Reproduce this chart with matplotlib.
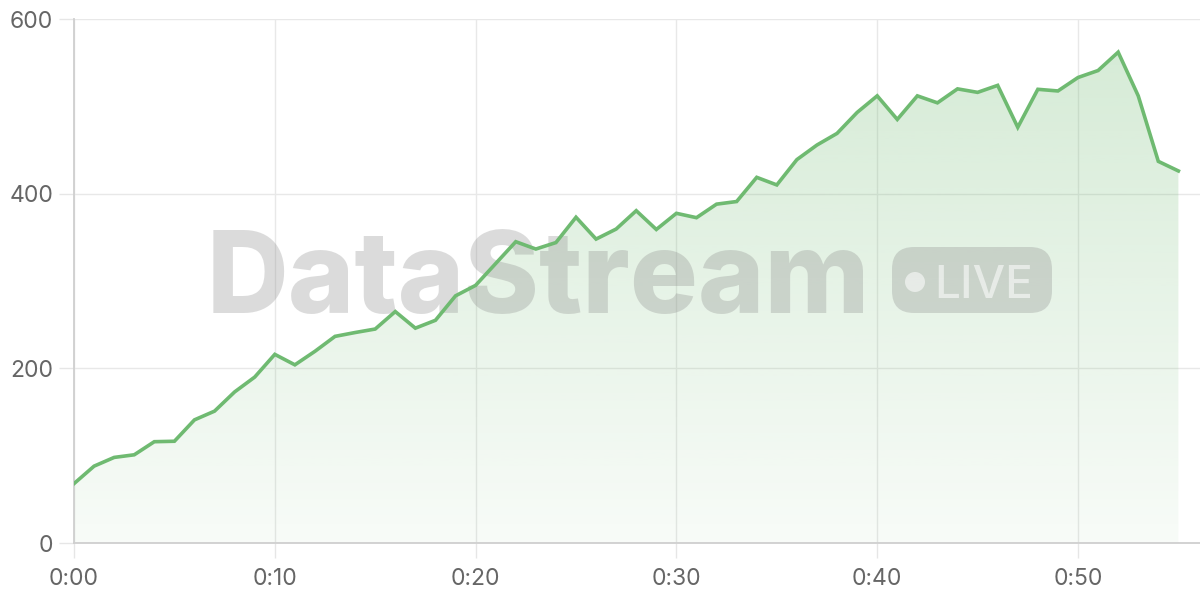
import matplotlib
matplotlib.use("Agg")
import matplotlib.pyplot as plt
import numpy as np
from matplotlib.patches import FancyBboxPatch, Circle
from matplotlib.transforms import IdentityTransform

# ---- data ----
minutes = list(range(0, 56))
values = [68, 88, 98, 101, 116, 116.5, 141, 151, 173, 190,
          216, 204, 219.5, 236.6, 241, 245, 265, 246, 255, 283,
          295, 320, 345, 336.6, 344, 373, 348, 359.5, 380.5, 359,
          377.5, 372.5, 388, 391, 418.7, 410, 439, 455.7, 469, 493,
          512, 485, 512, 504, 520, 516, 524, 476, 519.5, 517.6,
          533, 541, 562, 512, 437, 426]
xticks = [0, 10, 20, 30, 40, 50]
xtick_labels = ["0:00", "0:10", "0:20", "0:30", "0:40", "0:50"]
yticks = [0, 200, 400, 600]
watermark = "DataStream"
badge = "LIVE"

plt.rcParams['font.family'] = ['Inter', 'DejaVu Sans']

W, H = 1200, 600
fig = plt.figure(figsize=(12, 6), dpi=100)
ax = fig.add_axes([74 / W, (H - 543) / H, (W - 74) / W, (543 - 19) / H])

line_color = '#6fba71'
x = np.array(minutes, dtype=float)
y = np.array(values, dtype=float)

ax.set_xlim(0, 1126 / 20.08)
ax.set_ylim(0, 600)

# gradient fill
poly = ax.fill_between(x, y, 0, color='none', lw=0, zorder=1)
grad = np.zeros((256, 1, 4))
base = matplotlib.colors.to_rgb(line_color)
grad[:, 0, 0:3] = base
grad[:, 0, 3] = np.linspace(0.30, 0.05, 256)
im = ax.imshow(grad, aspect='auto', extent=[0, 55, 0, 600], origin='upper', zorder=1)
path = poly.get_paths()[0]
im.set_clip_path(path, transform=ax.transData)

ax.plot(x, y, color=line_color, lw=2.6, zorder=4, solid_joinstyle='miter')

# grid & spines
ax.set_xticks(xticks)
ax.set_xticklabels(xtick_labels)
ax.set_yticks(yticks)
ax.grid(True, color='#e8e8e8', lw=1, zorder=0)
ax.set_axisbelow(True)
for s in ['top', 'right']:
    ax.spines[s].set_visible(False)
for s in ['left', 'bottom']:
    ax.spines[s].set_color('#cfcfcf')
    ax.spines[s].set_linewidth(1.3)
    ax.spines[s].set_zorder(3)
ax.tick_params(axis='both', length=11, width=1, color='#e6e6e6',
               labelcolor='#666666', labelsize=16.5)
ax.tick_params(axis='x', pad=7)
ax.tick_params(axis='y', pad=4)

# watermark
ax.text(207 / W, (H - 313) / H, watermark, transform=fig.transFigure,
        fontsize=81.5, fontweight='heavy', family=['Inter', 'DejaVu Sans'],
        color='#8a8a8a', alpha=0.3, ha='left', va='baseline', zorder=2)
box = FancyBboxPatch((892, H - 313), 160, 66,
                     boxstyle='round,pad=0,rounding_size=22',
                     transform=IdentityTransform(), facecolor='#8a8a8a',
                     edgecolor='none', alpha=0.3, zorder=2)
ax.add_patch(box)
c = Circle((915, H - 282), 10, transform=IdentityTransform(),
           facecolor='white', edgecolor='none', alpha=0.55, zorder=2.5)
ax.add_patch(c)
ax.text(934, H - 298, badge, transform=IdentityTransform(),
        fontsize=33, family=['Inter', 'DejaVu Sans'], fontweight='medium',
        color='white', alpha=0.55, ha='left', va='baseline', zorder=2.5)

fig.savefig('out.png', dpi=100)
